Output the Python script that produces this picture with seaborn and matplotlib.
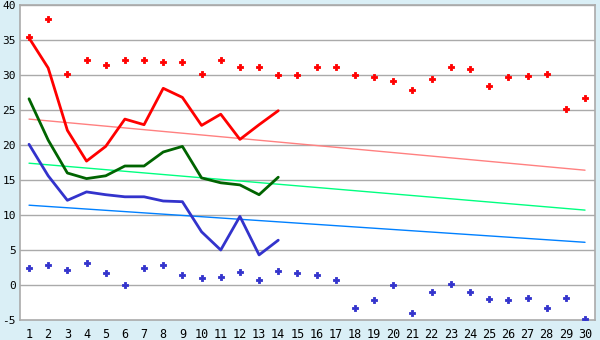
import matplotlib
matplotlib.use("Agg")
import matplotlib.pyplot as plt
import seaborn as sns
import pandas as pd
import numpy as np

days = list(range(1, 31))
days14 = list(range(1, 15))

high_records = [35.4, 38.0, 30.1, 32.2, 31.5, 32.2, 32.2, 31.9, 31.8, 30.2,
                32.2, 31.1, 31.1, 30.0, 30.0, 31.1, 31.1, 30.0, 29.7, 29.2,
                27.9, 29.4, 31.1, 30.8, 28.5, 29.7, 29.8, 30.1, 25.2, 26.7]
low_records = [2.5, 2.8, 2.2, 3.1, 1.7, -0.05, 2.5, 2.8, 1.4, 0.95,
               1.1, 1.8, 0.7, 2.0, 1.7, 1.5, 0.7, -3.3, -2.2, -0.05,
               -4.0, -1.0, 0.1, -1.0, -2.0, -2.2, -1.9, -3.3, -1.9, -4.9]

max_temp = [35.3, 31.0, 22.1, 17.7, 19.8, 23.7, 22.9, 28.1, 26.8, 22.8,
            24.4, 20.8, 22.9, 24.9]
mean_temp = [26.6, 20.7, 16.0, 15.2, 15.6, 17.0, 17.0, 19.0, 19.8, 15.3,
             14.6, 14.3, 12.9, 15.4]
min_temp = [20.1, 15.6, 12.1, 13.3, 12.9, 12.6, 12.6, 12.0, 11.9, 7.6,
            5.0, 9.8, 4.3, 6.4]

trend_days = [1, 30]
normal_max = [23.7, 16.4]
normal_mean = [17.4, 10.7]
normal_min = [11.4, 6.1]

yticks = [-5, 0, 5, 10, 15, 20, 25, 30, 35, 40]

bg = "#daeff6"
grid = "#aaaaaa"

sns.set_theme(style="white")
plt.rcParams['font.family'] = ['DejaVu Sans Mono', 'DejaVu Sans']

fig = plt.figure(figsize=(6, 3.4), dpi=100, facecolor=bg)
ax = fig.add_axes([20/600, 1 - 320/340, 575/600, 315/340])
ax.set_facecolor("white")

for yv in yticks[1:]:
    ax.axhline(yv, color=grid, lw=1.0, zorder=0)

sns.lineplot(x=trend_days, y=normal_max, ax=ax, color="#ff8080", lw=1.0, zorder=2)
sns.lineplot(x=trend_days, y=normal_mean, ax=ax, color="#00ff80", lw=1.0, zorder=2)
sns.lineplot(x=trend_days, y=normal_min, ax=ax, color="#0080ff", lw=1.0, zorder=2)

sns.lineplot(x=days14, y=max_temp, ax=ax, color="#ff0000", lw=2.0, zorder=3)
sns.lineplot(x=days14, y=mean_temp, ax=ax, color="#006400", lw=2.0, zorder=3)
sns.lineplot(x=days14, y=min_temp, ax=ax, color="#3333cc", lw=2.0, zorder=3)

sns.scatterplot(x=days, y=high_records, ax=ax, color="#ff0000", marker="P",
                s=20, linewidth=0.6, edgecolor="#ff0000", zorder=4)
sns.scatterplot(x=days, y=low_records, ax=ax, color="#3333cc", marker="P",
                s=20, linewidth=0.6, edgecolor="#3333cc", zorder=4)

ax.set_xlim(0.53, 30.52)
ax.set_ylim(-5, 40)
ax.set_xticks(days)
ax.set_xticklabels([str(d) for d in days])
ax.set_yticks(yticks)
ax.set_yticklabels([str(v) for v in yticks])
ax.tick_params(axis="both", labelsize=8.5, colors="black", length=4, width=1,
               color="black", pad=2, direction="out")
ax.tick_params(axis="y", length=2, pad=1, labelsize=8)
for side in ["left", "bottom", "right", "top"]:
    ax.spines[side].set_visible(True)
    ax.spines[side].set_color(grid)
    ax.spines[side].set_linewidth(1.2)
ax.set_xlabel("")
ax.set_ylabel("")
ax.grid(False)

fig.savefig("out.png", dpi=100, facecolor=bg)
